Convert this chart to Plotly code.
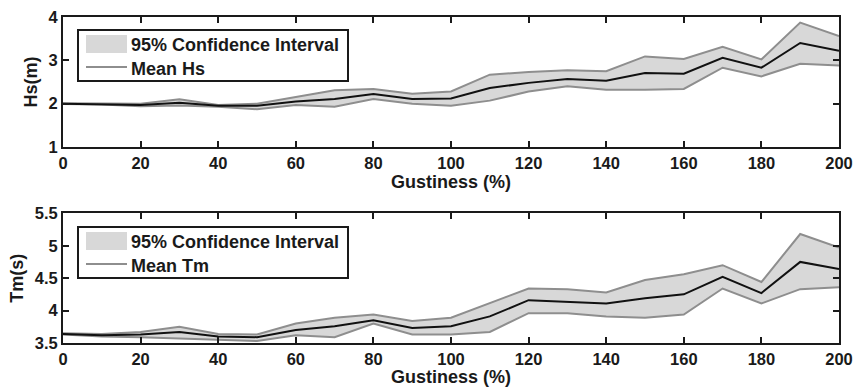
import plotly.graph_objects as go

# Gustiness levels (%)
gustiness = [0, 10, 20, 30, 40, 50, 60, 70, 80, 90, 100,
             110, 120, 130, 140, 150, 160, 170, 180, 190, 200]

# Significant wave height Hs (m): mean and 95% confidence bounds
hs_mean = [2.00, 1.99, 1.97, 2.02, 1.95, 1.95, 2.05, 2.11, 2.22, 2.11, 2.12,
           2.36, 2.48, 2.57, 2.53, 2.71, 2.69, 3.06, 2.83, 3.40, 3.22]
hs_upper = [2.01, 2.01, 2.00, 2.10, 1.97, 2.00, 2.15, 2.31, 2.34, 2.23, 2.28,
            2.67, 2.73, 2.77, 2.75, 3.09, 3.03, 3.31, 3.02, 3.87, 3.56]
hs_lower = [1.99, 1.98, 1.94, 1.96, 1.93, 1.87, 1.97, 1.93, 2.11, 2.00, 1.95,
            2.07, 2.28, 2.40, 2.32, 2.32, 2.34, 2.83, 2.63, 2.92, 2.88]

# Mean wave period Tm (s): mean and 95% confidence bounds
tm_mean = [3.64, 3.62, 3.63, 3.67, 3.60, 3.59, 3.70, 3.76, 3.85, 3.73, 3.76,
           3.91, 4.16, 4.14, 4.11, 4.19, 4.25, 4.52, 4.27, 4.75, 4.64]
tm_upper = [3.65, 3.64, 3.67, 3.75, 3.64, 3.63, 3.80, 3.89, 3.94, 3.84, 3.89,
            4.11, 4.34, 4.33, 4.28, 4.47, 4.56, 4.70, 4.44, 5.18, 4.97]
tm_lower = [3.63, 3.60, 3.59, 3.57, 3.55, 3.53, 3.62, 3.59, 3.80, 3.63, 3.63,
            3.67, 3.96, 3.96, 3.91, 3.89, 3.94, 4.34, 4.11, 4.33, 4.36]

x_ticks = [0, 20, 40, 60, 80, 100, 120, 140, 160, 180, 200]
x_tick_text = [str(v) for v in x_ticks]
hs_ticks = [1, 2, 3, 4]
hs_tick_text = ["1", "2", "3", "4"]
tm_ticks = [3.5, 4, 4.5, 5, 5.5]
tm_tick_text = ["3.5", "4", "4.5", "5", "5.5"]

ci_label = "95% Confidence Interval"
hs_label = "Mean Hs"
tm_label = "Mean Tm"
x_title = "Gustiness (%)"
hs_title = "Hs(m)"
tm_title = "Tm(s)"

FILL = "#d8d8d8"
EDGE = "#8e8e8e"
MEAN = "#111111"
INK = "#1a1a1a"
FONT = "Liberation Sans, Arial, sans-serif"

W, H = 857, 387
ML, MR, MT, MB = 63, 18, 17, 44
PW, PH = W - ML - MR, H - MT - MB


def bold(s):
    return "<b>" + s + "</b>"


fig = go.Figure()


def add_panel(mean, upper, lower, xa, ya):
    # shaded confidence band
    fig.add_trace(go.Scatter(
        x=gustiness + gustiness[::-1], y=upper + lower[::-1],
        fill="toself", fillcolor=FILL, line=dict(width=0),
        mode="lines", showlegend=False, hoverinfo="skip",
        xaxis=xa, yaxis=ya))
    # band edges
    for bound in (upper, lower):
        fig.add_trace(go.Scatter(
            x=gustiness, y=bound, mode="lines",
            line=dict(color=EDGE, width=2), showlegend=False,
            xaxis=xa, yaxis=ya))
    # mean curve
    fig.add_trace(go.Scatter(
        x=gustiness, y=mean, mode="lines",
        line=dict(color=MEAN, width=2), showlegend=False,
        xaxis=xa, yaxis=ya))


add_panel(hs_mean, hs_upper, hs_lower, "x", "y")
add_panel(tm_mean, tm_upper, tm_lower, "x2", "y2")

axis_common = dict(
    showline=True, linewidth=2, linecolor=INK, mirror="ticks",
    ticks="inside", ticklen=6, tickwidth=1.5, tickcolor=INK,
    showgrid=False, zeroline=False, automargin=False,
    tickfont=dict(family=FONT, size=16.5, color=INK),
)
title_font = dict(family=FONT, size=18, color=INK)

top_dom = [(H - MB - 147) / PH, 1.0]
bot_dom = [0.0, (H - MB - 213.3) / PH]

fig.update_layout(
    width=W, height=H,
    margin=dict(l=ML, r=MR, t=MT, b=MB, autoexpand=False),
    paper_bgcolor="white", plot_bgcolor="white",
    showlegend=False,
    xaxis=dict(axis_common, range=[0, 200], tickvals=x_ticks,
               ticktext=[bold(t) for t in x_tick_text], anchor="y",
               title=dict(text=bold(x_title), font=title_font, standoff=3)),
    yaxis=dict(axis_common, range=[1, 4], tickvals=hs_ticks,
               ticktext=[bold(t) for t in hs_tick_text], domain=top_dom,
               anchor="x",
               title=dict(text=bold(hs_title), font=title_font, standoff=6)),
    xaxis2=dict(axis_common, range=[0, 200], tickvals=x_ticks,
                ticktext=[bold(t) for t in x_tick_text], anchor="y2",
                title=dict(text=bold(x_title), font=title_font, standoff=3)),
    yaxis2=dict(axis_common, range=[3.5, 5.5], tickvals=tm_ticks,
                ticktext=[bold(t) for t in tm_tick_text], domain=bot_dom,
                anchor="x2",
                title=dict(text=bold(tm_title), font=title_font, standoff=6)),
)


# Boxed legend drawn in pixel space of the figure
def px(x):
    return (x - ML) / PW


def py(y):
    return (H - MB - y) / PH


def legend_box(top, mean_label):
    x0, x1 = 78, 348
    fig.add_shape(type="rect", xref="paper", yref="paper",
                  x0=px(x0), x1=px(x1), y0=py(top + 51), y1=py(top),
                  line=dict(color=INK, width=2), fillcolor="white",
                  layer="above")
    fig.add_shape(type="rect", xref="paper", yref="paper",
                  x0=px(86), x1=px(127), y0=py(top + 23), y1=py(top + 5),
                  line=dict(width=0), fillcolor=FILL, layer="above")
    fig.add_shape(type="line", xref="paper", yref="paper",
                  x0=px(86), x1=px(127), y0=py(top + 37), y1=py(top + 37),
                  line=dict(color=EDGE, width=2), layer="above")
    for label, yc in ((ci_label, top + 15), (mean_label, top + 39)):
        fig.add_annotation(
            xref="paper", yref="paper", x=px(129), y=py(yc),
            xanchor="left", yanchor="middle", showarrow=False,
            text=bold(label), font=dict(family=FONT, size=18, color=INK))


legend_box(30, hs_label)
legend_box(227, tm_label)

fig.write_html("out.html")
